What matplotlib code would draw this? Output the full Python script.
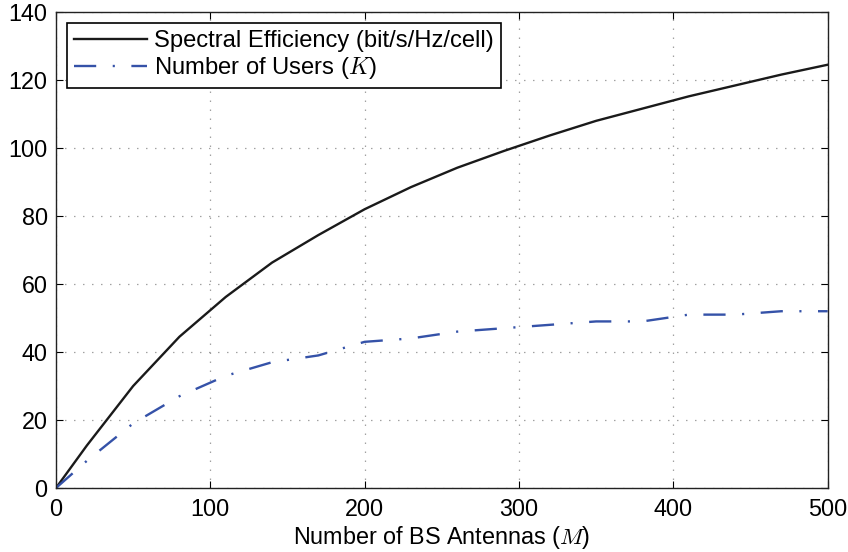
import matplotlib
matplotlib.use("Agg")
import matplotlib.pyplot as plt

plt.rcParams['font.family'] = ['Liberation Sans', 'DejaVu Sans']
plt.rcParams['mathtext.fontset'] = 'cm'

antennas = [0, 20, 50, 80, 110, 140, 170, 200, 230, 260, 290, 320, 350, 380, 410, 440, 470, 500]
spectral_eff = [0, 12.5, 30, 44.5, 56.2, 66.3, 74.4, 82, 88.5, 94.2, 99.1, 103.7, 108, 111.6, 115.2, 118.4, 121.6, 124.5]
num_users = [0, 8, 19, 27, 33, 37, 39, 43, 44, 46, 47, 48, 49, 49, 51, 51, 52, 52]

xticks = [0, 100, 200, 300, 400, 500]
yticks = [0, 20, 40, 60, 80, 100, 120, 140]

FS = 16.8

fig = plt.figure(figsize=(8.48, 5.52), dpi=100)
ax = fig.add_axes([0.066, 0.1159, 0.910, 0.8623])

ax.plot(antennas, spectral_eff, color='#1a1a1a', lw=1.7, label='Spectral Efficiency (bit/s/Hz/cell)')
blue, = ax.plot(antennas, num_users, color='#3552a8', lw=1.7, label='Number of Users ($K$)')
blue.set_dashes((9.4, 7.0, 0.9, 7.0))
blue.set_dash_capstyle('butt')

ax.set_xlim(0, 500)
ax.set_ylim(0, 140)
ax.set_xticks(xticks)
ax.set_yticks(yticks)
ax.tick_params(direction='in', top=True, right=True, labelsize=FS, length=5, width=0.8)
ax.tick_params(axis='y', pad=6)
ax.tick_params(axis='x', pad=7)
ax.grid(True, color='#444444', linestyle=(0, (0.6, 6.6)), lw=0.9)
for s in ax.spines.values():
    s.set_linewidth(1.0)
    s.set_color('#222222')

ax.set_xlabel('Number of BS Antennas ($M$)', fontsize=FS, labelpad=2)

leg = ax.legend(loc='upper left', fontsize=17.1, frameon=True, fancybox=False,
                edgecolor='black', framealpha=1, borderpad=0.3, handlelength=3.05,
                handletextpad=0.3, labelspacing=0.12, borderaxespad=0.47)
leg.get_frame().set_linewidth(1.2)

fig.savefig('out.png', dpi=100)
